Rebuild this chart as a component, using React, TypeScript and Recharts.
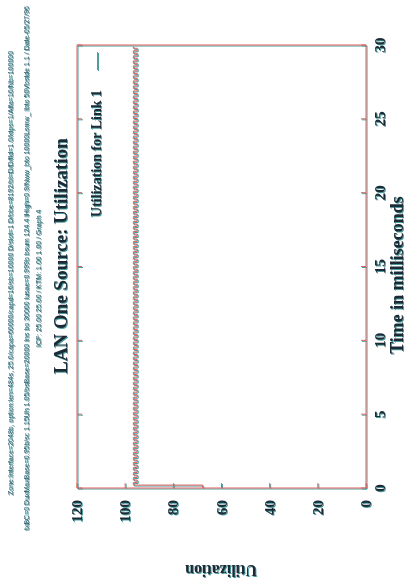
import { Line, LineChart, XAxis, YAxis } from 'recharts'

// time (ms) at each step change
const timeMs = [
  0,
  0.2, 0.37, 0.54, 0.71, 0.88, 1.05, 1.22, 1.39, 1.56, 1.73,
  1.9, 2.07, 2.24, 2.41, 2.58, 2.75, 2.92, 3.09, 3.26, 3.43,
  3.6, 3.77, 3.94, 4.11, 4.28, 4.45, 4.62, 4.79, 4.96, 5.13,
  5.3, 5.47, 5.64, 5.81, 5.98, 6.15, 6.32, 6.49, 6.66, 6.83,
  7.0, 7.17, 7.34, 7.51, 7.68, 7.85, 8.02, 8.19, 8.36, 8.53,
  8.7, 8.87, 9.04, 9.21, 9.38, 9.55, 9.72, 9.89, 10.06, 10.23,
  10.4, 10.57, 10.74, 10.91, 11.08, 11.25, 11.42, 11.59, 11.76, 11.93,
  12.1, 12.27, 12.44, 12.61, 12.78, 12.95, 13.12, 13.29, 13.46, 13.63,
  13.8, 13.97, 14.14, 14.31, 14.48, 14.65, 14.82, 14.99, 15.16, 15.33,
  15.5, 15.67, 15.84, 16.01, 16.18, 16.35, 16.52, 16.69, 16.86, 17.03,
  17.2, 17.37, 17.54, 17.71, 17.88, 18.05, 18.22, 18.39, 18.56, 18.73,
  18.9, 19.07, 19.24, 19.41, 19.58, 19.75, 19.92, 20.09, 20.26, 20.43,
  20.6, 20.77, 20.94, 21.11, 21.28, 21.45, 21.62, 21.79, 21.96, 22.13,
  22.3, 22.47, 22.64, 22.81, 22.98, 23.15, 23.32, 23.49, 23.66, 23.83,
  24.0, 24.17, 24.34, 24.51, 24.68, 24.85, 25.02, 25.19, 25.36, 25.53,
  25.7, 25.87, 26.04, 26.21, 26.38, 26.55, 26.72, 26.89, 27.06, 27.23,
  27.4, 27.57, 27.74, 27.91, 28.08, 28.25, 28.42, 28.59, 28.76, 28.93,
  29.1, 29.27, 29.44, 29.61, 29.78,
  29.9,
]

// utilization (%) held from each time above until the next one
const utilPct = [
  67.8,
  96.6, 95.0, 96.6, 95.0, 96.6, 95.0, 96.6, 95.0, 96.6, 95.0,
  96.6, 95.0, 96.6, 95.0, 96.6, 95.0, 96.6, 95.0, 96.6, 95.0,
  96.6, 95.0, 96.6, 95.0, 96.6, 95.0, 96.6, 95.0, 96.6, 95.0,
  96.6, 95.0, 96.6, 95.0, 96.6, 95.0, 96.6, 95.0, 96.6, 95.0,
  96.6, 95.0, 96.6, 95.0, 96.6, 95.0, 96.6, 95.0, 96.6, 95.0,
  96.6, 95.0, 96.6, 95.0, 96.6, 95.0, 96.6, 95.0, 96.6, 95.0,
  96.6, 95.0, 96.6, 95.0, 96.6, 95.0, 96.6, 95.0, 96.6, 95.0,
  96.6, 95.0, 96.6, 95.0, 96.6, 95.0, 96.6, 95.0, 96.6, 95.0,
  96.6, 95.0, 96.6, 95.0, 96.6, 95.0, 96.6, 95.0, 96.6, 95.0,
  96.6, 95.0, 96.6, 95.0, 96.6, 95.0, 96.6, 95.0, 96.6, 95.0,
  96.6, 95.0, 96.6, 95.0, 96.6, 95.0, 96.6, 95.0, 96.6, 95.0,
  96.6, 95.0, 96.6, 95.0, 96.6, 95.0, 96.6, 95.0, 96.6, 95.0,
  96.6, 95.0, 96.6, 95.0, 96.6, 95.0, 96.6, 95.0, 96.6, 95.0,
  96.6, 95.0, 96.6, 95.0, 96.6, 95.0, 96.6, 95.0, 96.6, 95.0,
  96.6, 95.0, 96.6, 95.0, 96.6, 95.0, 96.6, 95.0, 96.6, 95.0,
  96.6, 95.0, 96.6, 95.0, 96.6, 95.0, 96.6, 95.0, 96.6, 95.0,
  96.6, 95.0, 96.6, 95.0, 96.6, 95.0, 96.6, 95.0, 96.6, 95.0,
  96.6, 95.0, 96.6, 95.0, 96.6,
  96.6,
]

const timeTicks = [0, 5, 10, 15, 20, 25, 30]
const utilTicks = [0, 20, 40, 60, 80, 100, 120]

const titleText = 'LAN One Source:  Utilization'
const seriesName = 'Utilization for Link 1'
const headerLines = [
  'Zone:Interface=2048b, option:len=484s, 25.0/capa=60000/capd=16/sb=10000 D/slot=1 D/bbe=8192/bl=D/D/fld=1.0/ktps=1/Alfa=10/Nb=100000',
  'txBC=0 DuxMaxBase=0.95b/sc 1.15Uh 1.05/bsBase=20000 Ins bo 30000 lusae=0.999b bsum 124.4 lHigh=0.9/Nww_bto 10000Lsmw_ lbto 50Vbstde 1.1 / Date-05/27/96',
  'ICP: 25.00 25.00 / KTM: 1.00 1.00 / Graph 4',
]

const data = timeMs.map((t, i) => ({ t, u: utilPct[i] }))

// the plot is laid out landscape, then the whole sheet is turned a quarter turn
const W = 587
const H = 408
const ink = '#1b2a36'
const lineInk = '#e0605e'
const serif = '"Liberation Serif", "DejaVu Serif", serif'
const tick = 5

function BottomTick({ x, y, payload }: any) {
  return (
    <g>
      <line x1={x} y1={y} x2={x} y2={y - tick} stroke={lineInk} />
      <text x={x} y={y + 19} textAnchor="middle" fontFamily={serif} fontWeight="bold" fontSize={15} fill={ink}>
        {payload.value}
      </text>
    </g>
  )
}

function TopTick({ x, y }: any) {
  return <line x1={x} y1={y} x2={x} y2={y + tick} stroke={lineInk} />
}

function LeftTick({ x, y, payload }: any) {
  return (
    <g>
      <line x1={x} y1={y} x2={x + tick} y2={y} stroke={lineInk} />
      <text x={x - 12} y={y + 5} textAnchor="end" fontFamily={serif} fontWeight="bold" fontSize={15} fill={ink}>
        {payload.value}
      </text>
    </g>
  )
}

function RightTick({ x, y }: any) {
  return <line x1={x} y1={y} x2={x - tick} y2={y} stroke={lineInk} />
}

const centered = (left: number, top: number): any => ({
  position: 'absolute',
  left,
  top,
  transform: 'translate(-50%, -50%)',
  whiteSpace: 'nowrap',
  fontFamily: serif,
  fontWeight: 'bold',
  color: ink,
  lineHeight: 1,
})

const tiny = (left: number, top: number): any => ({
  position: 'absolute',
  left,
  top,
  transform: 'translateY(-50%)',
  whiteSpace: 'nowrap',
  fontFamily: '"Liberation Sans Narrow", "Liberation Sans", sans-serif',
  fontSize: 7,
  color: '#2a5a6a',
  lineHeight: 1,
})

export default function App() {
  return (
    <div
      style={{
        position: 'absolute',
        left: 0,
        top: 0,
        width: H,
        height: W,
        overflow: 'hidden',
        filter: 'drop-shadow(1px 1px 0 rgba(40, 140, 140, 0.85))',
      }}
    >
      <div
        style={{
          position: 'absolute',
          left: 0,
          top: 0,
          width: W,
          height: H,
          transformOrigin: '0 0',
          transform: `translate(0px, ${W}px) rotate(-90deg)`,
        }}
      >
        <div style={tiny(92, 10)}>{headerLines[0]}</div>
        <div style={tiny(57, 26)}>{headerLines[1]}</div>
        <div style={tiny(240, 38)}>{headerLines[2]}</div>
        <div style={{ ...centered(331, 60), fontSize: 19 }}>{titleText}</div>

        <LineChart width={W} height={H} data={data} margin={{ top: 76, right: 44, bottom: 12, left: 59 }}>
          <XAxis
            dataKey="t"
            type="number"
            domain={[0, 30]}
            ticks={timeTicks}
            interval={0}
            height={30}
            tickSize={0}
            tickMargin={0}
            axisLine={{ stroke: lineInk, strokeWidth: 1 }}
            tickLine={false}
            tick={<BottomTick />}
          />
          <XAxis
            xAxisId="top"
            orientation="top"
            dataKey="t"
            type="number"
            domain={[0, 30]}
            ticks={timeTicks}
            interval={0}
            height={1}
            tickSize={0}
            tickMargin={0}
            axisLine={{ stroke: lineInk, strokeWidth: 1 }}
            tickLine={false}
            tick={<TopTick />}
          />
          <YAxis
            type="number"
            domain={[0, 120]}
            ticks={utilTicks}
            interval={0}
            width={40}
            tickSize={0}
            tickMargin={0}
            axisLine={{ stroke: lineInk, strokeWidth: 1 }}
            tickLine={false}
            tick={<LeftTick />}
          />
          <YAxis
            yAxisId="right"
            orientation="right"
            type="number"
            domain={[0, 120]}
            ticks={utilTicks}
            interval={0}
            width={1}
            tickSize={0}
            tickMargin={0}
            axisLine={{ stroke: lineInk, strokeWidth: 1 }}
            tickLine={false}
            tick={<RightTick />}
          />
          <Line
            type="stepAfter"
            dataKey="u"
            name={seriesName}
            stroke={lineInk}
            strokeWidth={1}
            dot={false}
            activeDot={false}
            isAnimationActive={false}
          />
        </LineChart>

        <div
          style={{
            position: 'absolute',
            right: W - 497,
            top: 97,
            transform: 'translateY(-50%)',
            whiteSpace: 'nowrap',
            fontFamily: serif,
            fontWeight: 'bold',
            fontSize: 14,
            lineHeight: 1,
            color: ink,
          }}
        >
          {seriesName}
        </div>
        <div style={{ position: 'absolute', left: 517, top: 97, width: 18, borderTop: `1px solid ${lineInk}` }} />

        <div style={{ ...centered(312, 397), fontSize: 18 }}>Time in milliseconds</div>
        <div style={{ ...centered(17, 221), fontSize: 16, transform: 'translate(-50%, -50%) rotate(-90deg)' }}>
          Utilization
        </div>
      </div>
    </div>
  )
}
